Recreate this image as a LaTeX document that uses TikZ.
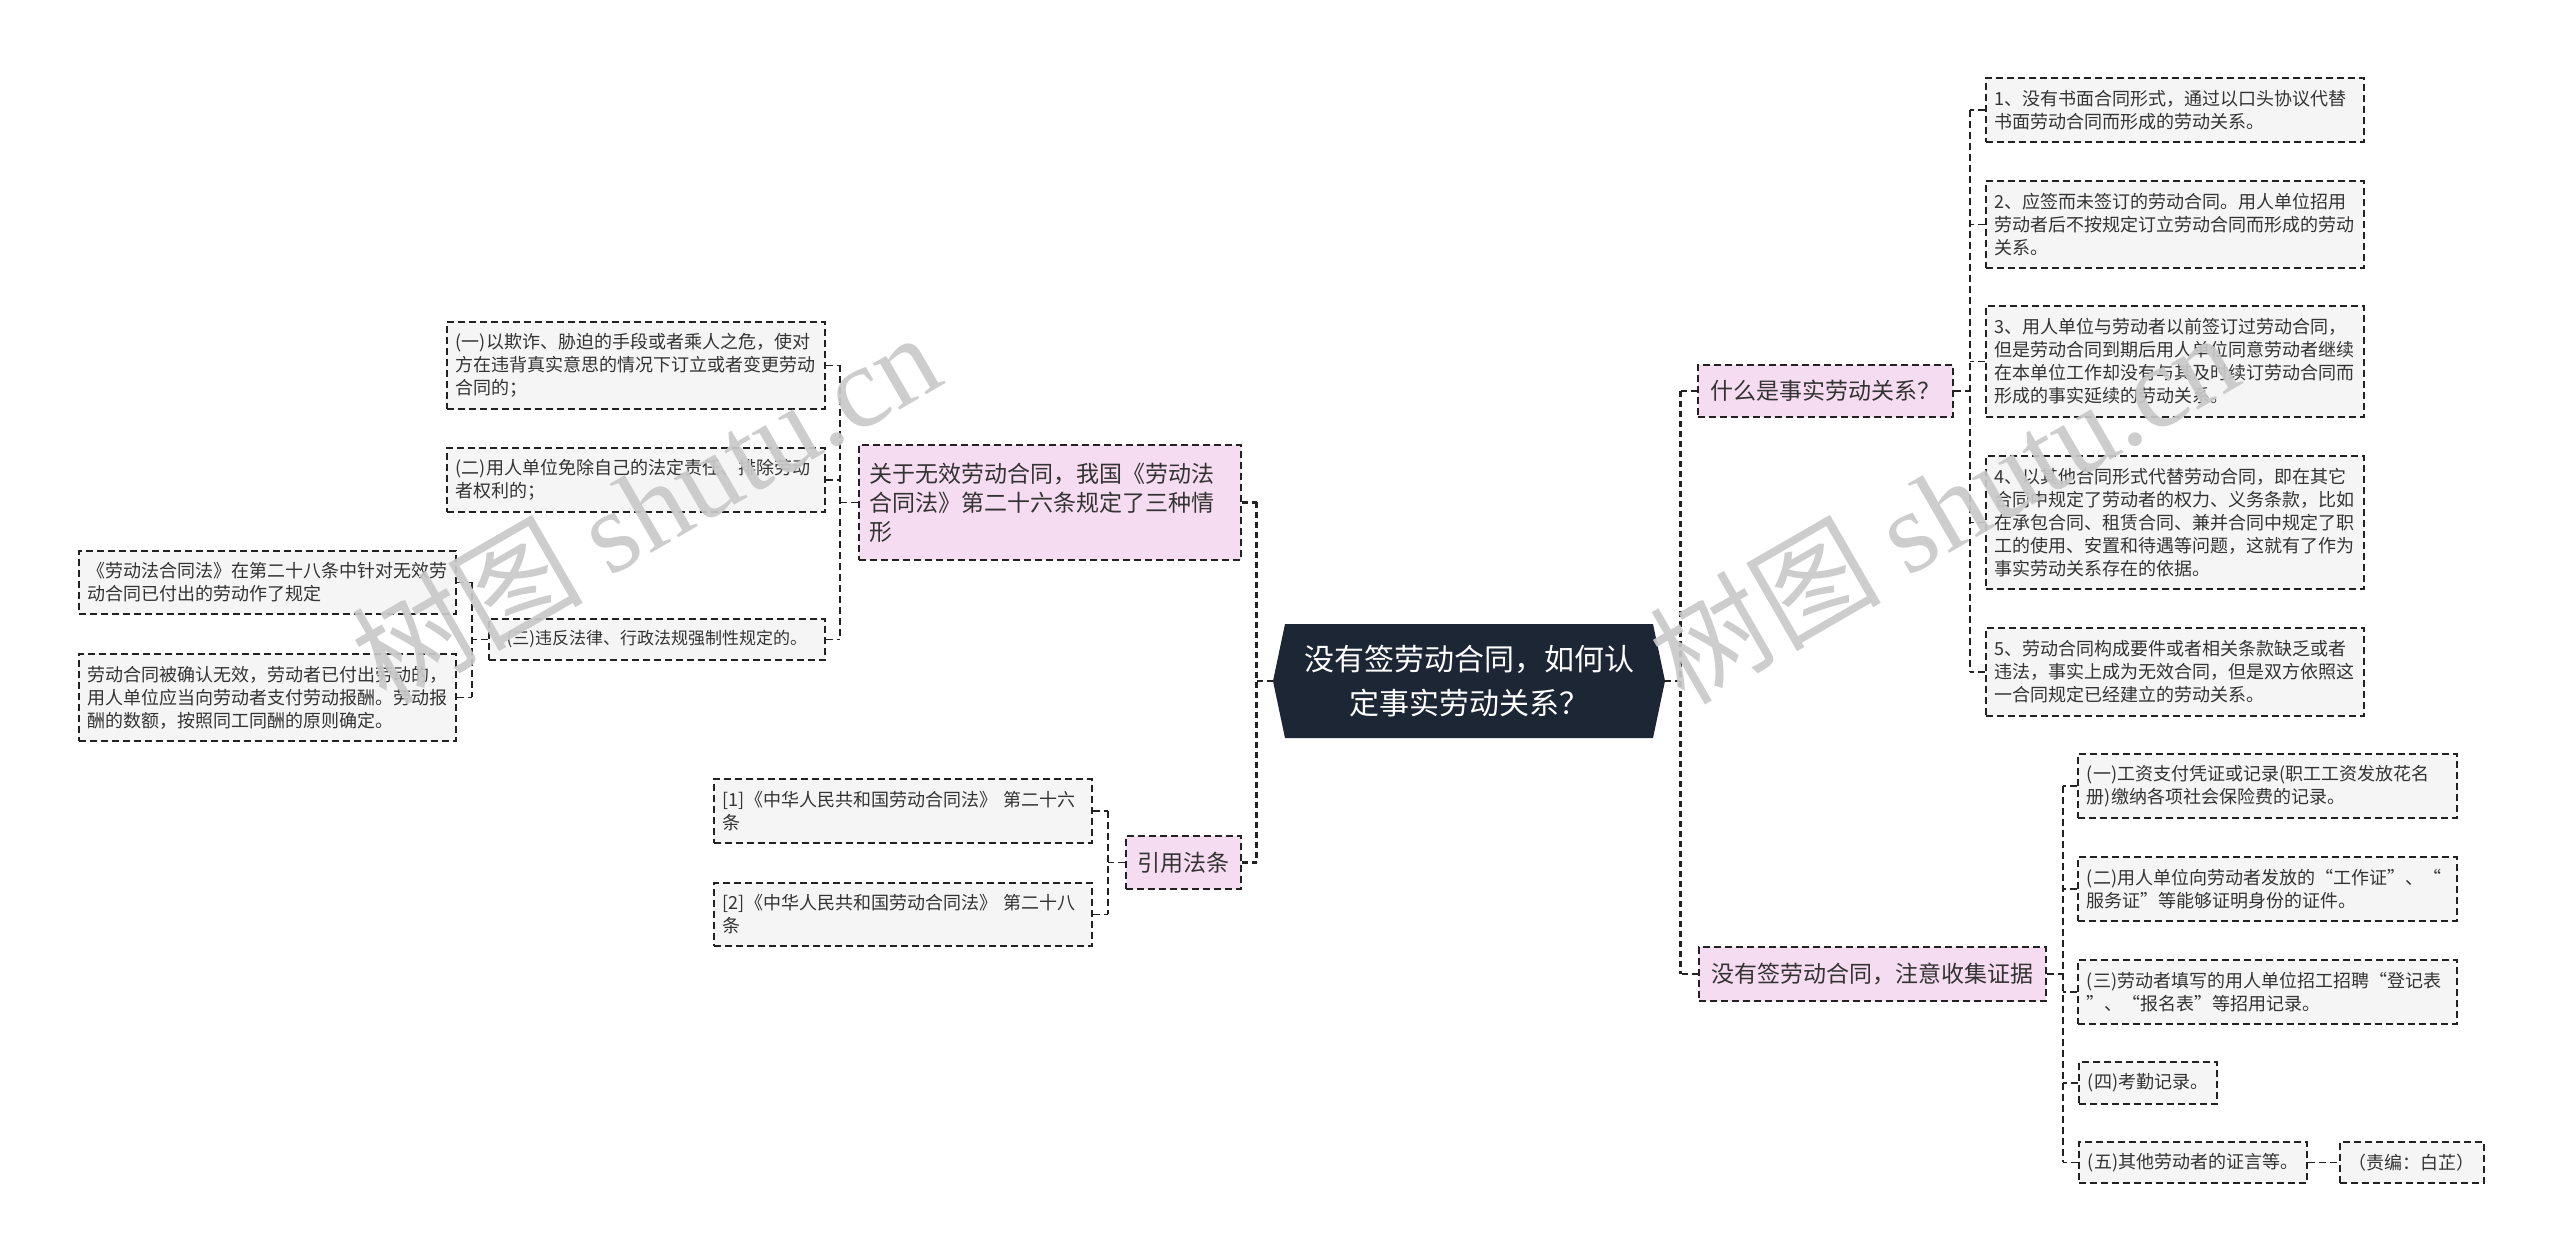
\documentclass[tikz,border=0pt]{standalone}
\usepackage{fontspec}
\setmainfont{Noto Sans CJK SC}
\newfontfamily\wmlatin{Liberation Serif}
\usetikzlibrary{calc}
\definecolor{rootfill}{HTML}{1C2634}
\definecolor{pinkfill}{HTML}{F6DCF0}
\definecolor{grayfill}{HTML}{F5F5F5}
\definecolor{linec}{HTML}{222222}
\definecolor{txt}{HTML}{333333}
\begin{document}
\begin{tikzpicture}[x=1pt,y=-1pt,
  dsh/.style={dash pattern=on 7pt off 4pt},
  gbox/.style={draw=linec, dsh, line width=1.8pt, fill=grayfill, anchor=north west,
    inner xsep=9pt, inner ysep=0pt, align=left, text=txt, font=\fontsize{18}{23}\selectfont},
  pbox/.style={gbox, fill=pinkfill, inner xsep=11pt, font=\fontsize{23}{29}\selectfont},
  conn/.style={draw=linec, dsh, line width=1.8pt},
  trunk/.style={draw=linec, dash pattern=on 6pt off 4pt, line width=2.8pt},
  wm/.style={rotate=30, text=black!21, opacity=0.92, font=\fontsize{116}{116}\selectfont}
]
\fill[white] (0,0) rectangle (2560,1259);
\useasboundingbox (0,0) rectangle (2560,1259);

% root
\fill[rootfill] (1273,681) -- (1285,624) -- (1653,624) -- (1665,681) -- (1653,738) -- (1285,738) -- cycle;
\node[minimum width=392pt, minimum height=114pt, inner sep=0pt, align=center, text=white,
  font=\fontsize{30}{44}\selectfont] (root) at (1469,681) {没有签劳动合同，如何认\\定事实劳动关系？};

% left side
\node[pbox, minimum width=382pt, minimum height=115pt, text width=360pt] (L1) at (858,444)
  {关于无效劳动合同，我国《劳动法\\合同法》第二十六条规定了三种情\\形};
\node[pbox, minimum width=115pt, minimum height=53pt] (cite) at (1125,835) {引用法条};

\node[gbox, minimum width=378pt, minimum height=87pt, text width=360pt] (A1) at (446,321)
  {(一)以欺诈、胁迫的手段或者乘人之危，使对\\方在违背真实意思的情况下订立或者变更劳动\\合同的；};
\node[gbox, minimum width=378pt, minimum height=64pt, text width=360pt] (A2) at (446,447)
  {(二)用人单位免除自己的法定责任、排除劳动\\者权利的；};
\node[gbox, minimum width=336pt, minimum height=41pt, font=\fontsize{17}{22}\selectfont] (A3) at (488,618)
  {(三)违反法律、行政法规强制性规定的。};
\node[gbox, minimum width=377pt, minimum height=63pt, text width=359pt] (B1) at (78,550)
  {《劳动法合同法》在第二十八条中针对无效劳\\动合同已付出的劳动作了规定};
\node[gbox, minimum width=377pt, minimum height=87pt, text width=359pt] (B2) at (78,653)
  {劳动合同被确认无效，劳动者已付出劳动的，\\用人单位应当向劳动者支付劳动报酬。劳动报\\酬的数额，按照同工同酬的原则确定。};
\node[gbox, minimum width=378pt, minimum height=64pt, text width=360pt] (C1) at (713,778)
  {[1]《中华人民共和国劳动合同法》~第二十六\\条};
\node[gbox, minimum width=378pt, minimum height=63pt, text width=360pt] (C2) at (713,882)
  {[2]《中华人民共和国劳动合同法》~第二十八\\条};

% right side
\node[pbox, minimum width=255pt, minimum height=52pt] (R1) at (1697,364) {什么是事实劳动关系？};
\node[pbox, minimum width=347pt, minimum height=54pt] (R2) at (1698,946) {没有签劳动合同，注意收集证据};

\node[gbox, minimum width=378pt, minimum height=64pt, text width=360pt] (D1) at (1985,77)
  {1、没有书面合同形式，通过以口头协议代替\\书面劳动合同而形成的劳动关系。};
\node[gbox, minimum width=378pt, minimum height=87pt, text width=360pt] (D2) at (1985,180)
  {2、应签而未签订的劳动合同。用人单位招用\\劳动者后不按规定订立劳动合同而形成的劳动\\关系。};
\node[gbox, minimum width=378pt, minimum height=111pt, text width=360pt] (D3) at (1985,305)
  {3、用人单位与劳动者以前签订过劳动合同，\\但是劳动合同到期后用人单位同意劳动者继续\\在本单位工作却没有与其及时续订劳动合同而\\形成的事实延续的劳动关系。};
\node[gbox, minimum width=378pt, minimum height=133pt, text width=360pt] (D4) at (1985,455)
  {4、以其他合同形式代替劳动合同，即在其它\\合同中规定了劳动者的权力、义务条款，比如\\在承包合同、租赁合同、兼并合同中规定了职\\工的使用、安置和待遇等问题，这就有了作为\\事实劳动关系存在的依据。};
\node[gbox, minimum width=378pt, minimum height=88pt, text width=360pt] (D5) at (1985,627)
  {5、劳动合同构成要件或者相关条款缺乏或者\\违法，事实上成为无效合同，但是双方依照这\\一合同规定已经建立的劳动关系。};

\node[gbox, minimum width=379pt, minimum height=64pt, text width=361pt] (E1) at (2077,753)
  {(一)工资支付凭证或记录(职工工资发放花名\\册)缴纳各项社会保险费的记录。};
\node[gbox, minimum width=379pt, minimum height=64pt, text width=361pt] (E2) at (2077,856)
  {(二)用人单位向劳动者发放的“工作证”、“\\服务证”等能够证明身份的证件。};
\node[gbox, minimum width=379pt, minimum height=64pt, text width=361pt] (E3) at (2077,959)
  {(三)劳动者填写的用人单位招工招聘“登记表\\”、“报名表”等招用记录。};
\node[gbox, minimum width=137pt, minimum height=42pt] (E4) at (2078,1061) {(四)考勤记录。};
\node[gbox, minimum width=227pt, minimum height=41pt] (E5) at (2078,1141) {(五)其他劳动者的证言等。};
\node[gbox, minimum width=144pt, minimum height=41pt] (F) at (2339,1141) {（责编：白芷）};

% connectors: root trunks
\coordinate (lt) at ($(root.west)+(-16,0)$);
\coordinate (rt) at ($(root.east)+(15,0)$);
\draw[trunk] (root.west) -- (lt);
\draw[trunk] (lt |- L1.east) -- (lt |- cite.east);
\draw[trunk] (L1.east) -- (lt |- L1.east);
\draw[trunk] (cite.east) -- (lt |- cite.east);
\draw[trunk] (root.east) -- (rt);
\draw[trunk] (rt |- R1.west) -- (rt |- R2.west);
\draw[trunk] (R1.west) -- (rt |- R1.west);
\draw[trunk] (R2.west) -- (rt |- R2.west);

% L1 -> A
\coordinate (av) at ($(L1.west)+(-18,0)$);
\draw[conn] (L1.west) -- (av);
\draw[conn] (av |- A1.east) -- (av |- A3.east);
\foreach \c in {A1,A2,A3} \draw[conn] (\c.east) -- (av |- \c.east);
% A3 -> B
\coordinate (bv) at ($(A3.west)+(-16,0)$);
\draw[conn] (A3.west) -- (bv);
\draw[conn] (bv |- B1.east) -- (bv |- B2.east);
\foreach \c in {B1,B2} \draw[conn] (\c.east) -- (bv |- \c.east);
% cite -> C
\coordinate (cv) at ($(cite.west)+(-17,0)$);
\draw[conn] (cite.west) -- (cv);
\draw[conn] (cv |- C1.east) -- (cv |- C2.east);
\foreach \c in {C1,C2} \draw[conn] (\c.east) -- (cv |- \c.east);
% R1 -> D
\coordinate (dv) at ($(R1.east)+(16,0)$);
\draw[conn] (R1.east) -- (dv);
\draw[conn] (dv |- D1.west) -- (dv |- D5.west);
\foreach \c in {D1,D2,D3,D4,D5} \draw[conn] (\c.west) -- (dv |- \c.west);
% R2 -> E
\coordinate (ev) at ($(R2.east)+(16,0)$);
\draw[conn] (R2.east) -- (ev);
\draw[conn] (ev |- E1.west) -- (ev |- E5.west);
\foreach \c in {E1,E2,E3,E4,E5} \draw[conn] (\c.west) -- (ev |- \c.west);
\draw[conn] (E5.east) -- (F.west);

% watermark
\node[wm] (wm1) at (645,506) {树图 {\wmlatin shutu.cn}};
\node[wm] (wm2) at (1943,506) {树图 {\wmlatin shutu.cn}};
\end{tikzpicture}
\end{document}
